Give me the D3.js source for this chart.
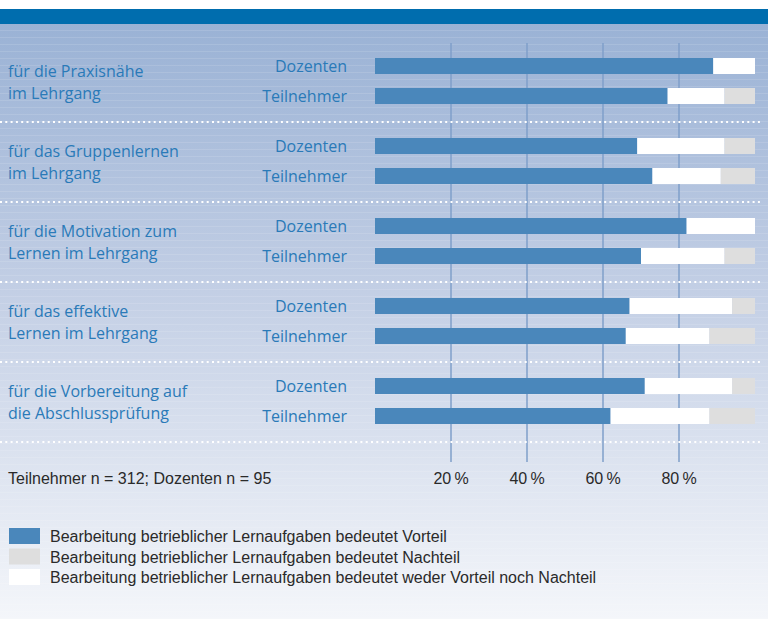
<!DOCTYPE html>
<html>
<head>
<meta charset="utf-8">
<script src="https://cdn.jsdelivr.net/npm/d3@7"></script>
<style>
  body { margin: 0; background: #fff; }
  svg { display: block; }
</style>
</head>
<body>
<div id="chart"></div>
<script>
var width  = 768;
var height = 619;

// question groups (two text lines each)
var groupLines = [
  ["für die Praxisnähe", "im Lehrgang"],
  ["für das Gruppenlernen", "im Lehrgang"],
  ["für die Motivation zum", "Lernen im Lehrgang"],
  ["für das effektive", "Lernen im Lehrgang"],
  ["für die Vorbereitung auf", "die Abschlussprüfung"]
];
var respondents = ["Dozenten", "Teilnehmer"];

// percentages, order: group 1 Dozenten, group 1 Teilnehmer, group 2 Dozenten, ...
var vorteil  = [89, 77, 69, 73, 82, 70, 67, 66, 71, 62];
var weder    = [11, 15, 23, 18, 18, 22, 27, 22, 23, 26];
var nachteil = [ 0,  8,  8,  9,  0,  8,  6, 12,  6, 12];

var tickValues = [20, 40, 60, 80];
var note = "Teilnehmer n = 312; Dozenten n = 95";
var legendLabels = [
  "Bearbeitung betrieblicher Lernaufgaben bedeutet Vorteil",
  "Bearbeitung betrieblicher Lernaufgaben bedeutet Nachteil",
  "Bearbeitung betrieblicher Lernaufgaben bedeutet weder Vorteil noch Nachteil"
];

var colBlue  = "#4a87bb";
var colGrey  = "#dedede";
var colWhite = "#ffffff";
var textBlue = "#2a7ab8";
var narrow = "'Liberation Sans', Arial, sans-serif";
var humanist = "'Open Sans', 'Noto Sans', sans-serif";

var svg = d3.select("#chart").append("svg")
  .attr("width", width)
  .attr("height", height);

// background gradient
var defs = svg.append("defs");
var grad = defs.append("linearGradient")
  .attr("id", "bg").attr("x1", 0).attr("y1", 0).attr("x2", 0).attr("y2", 1);
grad.append("stop").attr("offset", "0%").attr("stop-color", "#9ab2d5");
grad.append("stop").attr("offset", "45%").attr("stop-color", "#c3cfe5");
grad.append("stop").attr("offset", "100%").attr("stop-color", "#f4f6fa");

svg.append("rect")
  .attr("x", 0).attr("y", 24).attr("width", width).attr("height", height - 24)
  .attr("fill", "url(#bg)");

// faint horizontal stripes in the background
svg.append("g").selectAll("line")
  .data(d3.range(30, height, 7))
  .enter().append("line")
  .attr("x1", 0).attr("x2", width)
  .attr("y1", function(d) { return d + 0.5; })
  .attr("y2", function(d) { return d + 0.5; })
  .attr("stroke", "#fff")
  .attr("stroke-opacity", 0.12);

// top band
svg.append("rect")
  .attr("x", 0).attr("y", 9).attr("width", width).attr("height", 15)
  .attr("fill", "#006dae");

// scales
var x = d3.scaleLinear().domain([0, 100]).range([375, 755]);
var yGroup = d3.scaleBand().domain(d3.range(groupLines.length)).range([42, 442]);
var yInner = d3.scalePoint().domain(respondents).range([16, 46]);
var barH = 16;

// gridlines
svg.append("g").selectAll("line")
  .data(tickValues)
  .enter().append("line")
  .attr("x1", function(d) { return x(d); })
  .attr("x2", function(d) { return x(d); })
  .attr("y1", 43).attr("y2", 462)
  .attr("stroke", "#7f9fca")
  .attr("stroke-width", 1.5);

// separators
svg.append("g").selectAll("line")
  .data(groupLines)
  .enter().append("line")
  .attr("x1", 0).attr("x2", 763)
  .attr("y1", function(d, i) { return yGroup(i) + yGroup.step(); })
  .attr("y2", function(d, i) { return yGroup(i) + yGroup.step(); })
  .attr("stroke", "#fff")
  .attr("stroke-width", 2)
  .attr("stroke-dasharray", "2,3.3");

// rows
var rows = [];
groupLines.forEach(function(g, gi) {
  respondents.forEach(function(r, ri) {
    var k = gi * 2 + ri;
    rows.push({ group: gi, who: r, v: vorteil[k], w: weder[k], n: nachteil[k] });
  });
});

function rowY(d) { return yGroup(d.group) + yInner(d.who); }

var row = svg.append("g").selectAll("g")
  .data(rows)
  .enter().append("g")
  .attr("transform", function(d) { return "translate(0," + rowY(d) + ")"; });

row.append("rect")
  .attr("x", x(0)).attr("height", barH)
  .attr("width", function(d) { return x(d.v) - x(0); })
  .attr("fill", colBlue);
row.append("rect")
  .attr("x", function(d) { return x(d.v); }).attr("height", barH)
  .attr("width", function(d) { return x(d.v + d.w) - x(d.v); })
  .attr("fill", colWhite);
row.append("rect")
  .attr("x", function(d) { return x(d.v + d.w); }).attr("height", barH)
  .attr("width", function(d) { return x(d.v + d.w + d.n) - x(d.v + d.w); })
  .attr("fill", colGrey);

row.append("text")
  .attr("x", 347).attr("y", barH / 2 + 6)
  .attr("text-anchor", "end")
  .style("font-family", humanist).style("font-size", "16px")
  .attr("fill", textBlue)
  .text(function(d) { return d.who; });

// group labels
var lab = svg.append("g").selectAll("text")
  .data(groupLines)
  .enter().append("text")
  .attr("x", 8)
  .attr("y", function(d, i) { return yGroup(i) + 35; })
  .style("font-family", humanist).style("font-size", "16px")
  .attr("fill", textBlue);
lab.selectAll("tspan")
  .data(function(d) { return d; })
  .enter().append("tspan")
  .attr("x", 8)
  .attr("dy", function(d, i) { return i ? 22 : 0; })
  .text(function(d) { return d; });

// tick labels
svg.append("g").selectAll("text")
  .data(tickValues)
  .enter().append("text")
  .attr("x", function(d) { return x(d); })
  .attr("y", 484)
  .attr("text-anchor", "middle")
  .style("font-family", narrow).style("font-size", "16px")
  .attr("fill", "#2a2a2a")
  .text(function(d) { return d + "\u2009%"; });

svg.append("text")
  .attr("x", 8).attr("y", 484)
  .style("font-family", narrow).style("font-size", "16px")
  .attr("fill", "#2a2a2a")
  .text(note);

// legend
var legendColors = [colBlue, colGrey, colWhite];
var leg = svg.append("g").selectAll("g")
  .data(legendLabels)
  .enter().append("g")
  .attr("transform", function(d, i) { return "translate(0," + (528 + i * 20.5) + ")"; });
leg.append("rect")
  .attr("x", 9).attr("width", 31).attr("height", 16)
  .attr("fill", function(d, i) { return legendColors[i]; });
leg.append("text")
  .attr("x", 50).attr("y", 14)
  .style("font-family", narrow).style("font-size", "16px")
  .attr("fill", "#2a2a2a")
  .text(function(d) { return d; });
</script>
</body>
</html>
